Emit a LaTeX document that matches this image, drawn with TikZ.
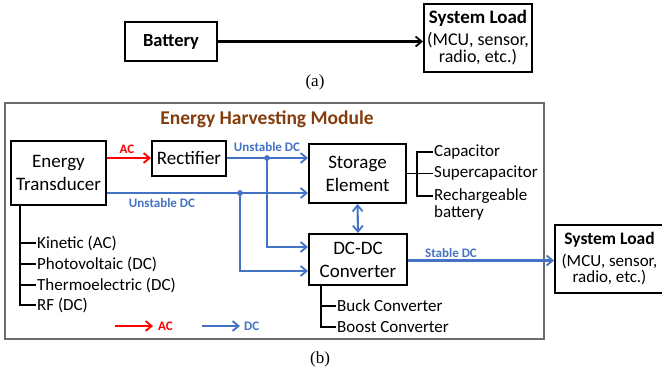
\documentclass[tikz,border=0pt]{standalone}
\usepackage{fontspec}
\setmainfont{Carlito}
\newfontfamily\capfont{Liberation Serif}
\usetikzlibrary{arrows.meta,calc}
\definecolor{dcblue}{HTML}{4472C4}
\definecolor{acred}{HTML}{FF0000}
\definecolor{ehmbrown}{HTML}{843C0C}
\definecolor{framegray}{HTML}{6B6B6B}
\begin{document}
\begin{tikzpicture}[x=1pt,y=-1pt,
  box/.style={draw=black, line width=2pt, inner sep=0pt, align=center, font=\fontsize{19}{23}\selectfont},
  loadbox/.style={draw=black, line width=2pt, inner sep=0pt, align=center, font=\fontsize{18}{17}\selectfont},
  lbl/.style={font=\fontsize{17}{19}\selectfont, anchor=west, inner sep=1pt},
  tag/.style={font=\bfseries\fontsize{13}{15}\selectfont, inner sep=0pt},
  tip/.tip={Straight Barb[length=6pt,width=10pt,line width=1.8pt]},
  arr/.style={line width=2.1pt, -tip},
  tree/.style={line width=1.6pt, black},
  jdot/.style={fill=dcblue, draw=none}
]
\useasboundingbox (0,0) rectangle (662,373);

% ---------- (a) ----------
\node[box, minimum width=92pt, minimum height=39pt, font=\bfseries\fontsize{18.5}{22}\selectfont] (bat) at (171,41.5) {Battery};
\node[loadbox, minimum width=108pt, minimum height=68pt] (sla) at (478,38)
  {{\bfseries\fontsize{19}{23}\selectfont System Load}\\[5pt](MCU, sensor,\\radio, etc.)};
\draw[arr, black] (bat.east) -- (bat.east -| sla.west);
\node[font=\capfont\fontsize{17}{20}\selectfont, inner sep=0pt] (capa) at (315,82) {(a)};

% ---------- (b) ----------
\node[draw=framegray, line width=2pt, minimum width=539pt, minimum height=236pt, inner sep=0pt] (ehm) at (274.5,221) {};
\node[font=\bfseries\fontsize{19.5}{22}\selectfont, text=ehmbrown, inner sep=0pt] (title) at (267,119) {Energy Harvesting Module};

\node[box, minimum width=95pt, minimum height=64pt] (et) at (58.5,173) {Energy\\Transducer};
\node[box, minimum width=74pt, minimum height=35pt] (rect) at (189,158) {Rectifier};
\node[box, minimum width=97pt, minimum height=59pt] (se) at (357.5,173.5) {Storage\\Element};
\node[box, minimum width=98pt, minimum height=51pt] (dc) at (358,259.5) {DC-DC\\Converter};
\node[loadbox, minimum width=109pt, minimum height=68pt, font=\fontsize{17}{16.5}\selectfont] (slb) at (609.5,259)
  {{\bfseries\fontsize{17.5}{21}\selectfont System Load}\\[5pt](MCU, sensor,\\radio, etc.)};

% AC arrow
\draw[arr, acred] (rect.west -| et.east) -- (rect.west);
\node[tag, text=acred] (aclbl) at (127,149) {AC};

% upper unstable DC
\coordinate (xa) at (267,0);
\draw[arr, dcblue] (rect.east) -- (rect.east -| se.west);
\draw[arr, dcblue] (rect.east -| xa) |- ($(dc.west)+(0,-12.5)$);
\fill[jdot] (rect.east -| xa) circle (2.9pt);
\node[tag, text=dcblue] (udc1) at (267,147) {Unstable DC};

% lower unstable DC
\coordinate (tout) at ($(et.east)+(0,20)$);
\coordinate (xb) at (240,0);
\draw[arr, dcblue] (tout) -- (tout -| se.west);
\draw[arr, dcblue] (tout -| xb) |- ($(dc.west)+(0,11.5)$);
\fill[jdot] (tout -| xb) circle (2.9pt);
\node[tag, text=dcblue] (udc2) at (162,203) {Unstable DC};

% storage <-> converter
\draw[line width=2.1pt, dcblue, tip-tip] (se.south) -- (dc.north);

% stable DC
\draw[arr, dcblue] (dc.east) ++(0,1) -- (slb.west |- 0,260.5);
\node[tag, text=dcblue] (sdc) at (451,253) {Stable DC};

% storage options
\node[lbl] (cap) at (433,152) {Capacitor};
\node[lbl] (scap) at (433,173.5) {Supercapacitor};
\node[lbl, anchor=north west, align=left, font=\fontsize{17}{17}\selectfont] (rbat) at (433,187) {Rechargeable\\battery};
\coordinate (rtick) at (433,196);
\coordinate (xs) at (417,0);
\draw[tree] (se.east) -- (scap.west);
\draw[tree] (cap.west) -| (xs |- cap.west) -- (xs |- rtick) -- (rtick);

% transducer types
\node[lbl] (kin) at (36,243) {Kinetic (AC)};
\node[lbl] (pv) at (36,264) {Photovoltaic (DC)};
\node[lbl] (te) at (36,285) {Thermoelectric (DC)};
\node[lbl] (rf) at (36,305) {RF (DC)};
\coordinate (xt) at (20,0);
\draw[tree] (et.south -| xt) |- (rf.west);
\draw[tree] (kin.west -| xt) -- (kin.west);
\draw[tree] (pv.west -| xt) -- (pv.west);
\draw[tree] (te.west -| xt) -- (te.west);

% converter types
\node[lbl] (buck) at (336,306) {Buck Converter};
\node[lbl] (boost) at (336,327) {Boost Converter};
\coordinate (xc) at (321,0);
\draw[tree] (dc.south -| xc) |- (boost.west);
\draw[tree] (buck.west -| xc) -- (buck.west);

% legend
\node[tag, text=acred, anchor=west] (legac) at (158,326) {AC};
\node[tag, text=dcblue, anchor=west] (legdc) at (244,326) {DC};
\coordinate (lacs) at (115,326);
\coordinate (ldcs) at (202,326);
\draw[arr, acred] (lacs) -- ($(legac.west)+(-5,0)$);
\draw[arr, dcblue] (ldcs) -- ($(legdc.west)+(-4,0)$);

\node[font=\capfont\fontsize{17}{20}\selectfont, inner sep=0pt] (capb) at (320,359) {(b)};
\end{tikzpicture}
\end{document}
